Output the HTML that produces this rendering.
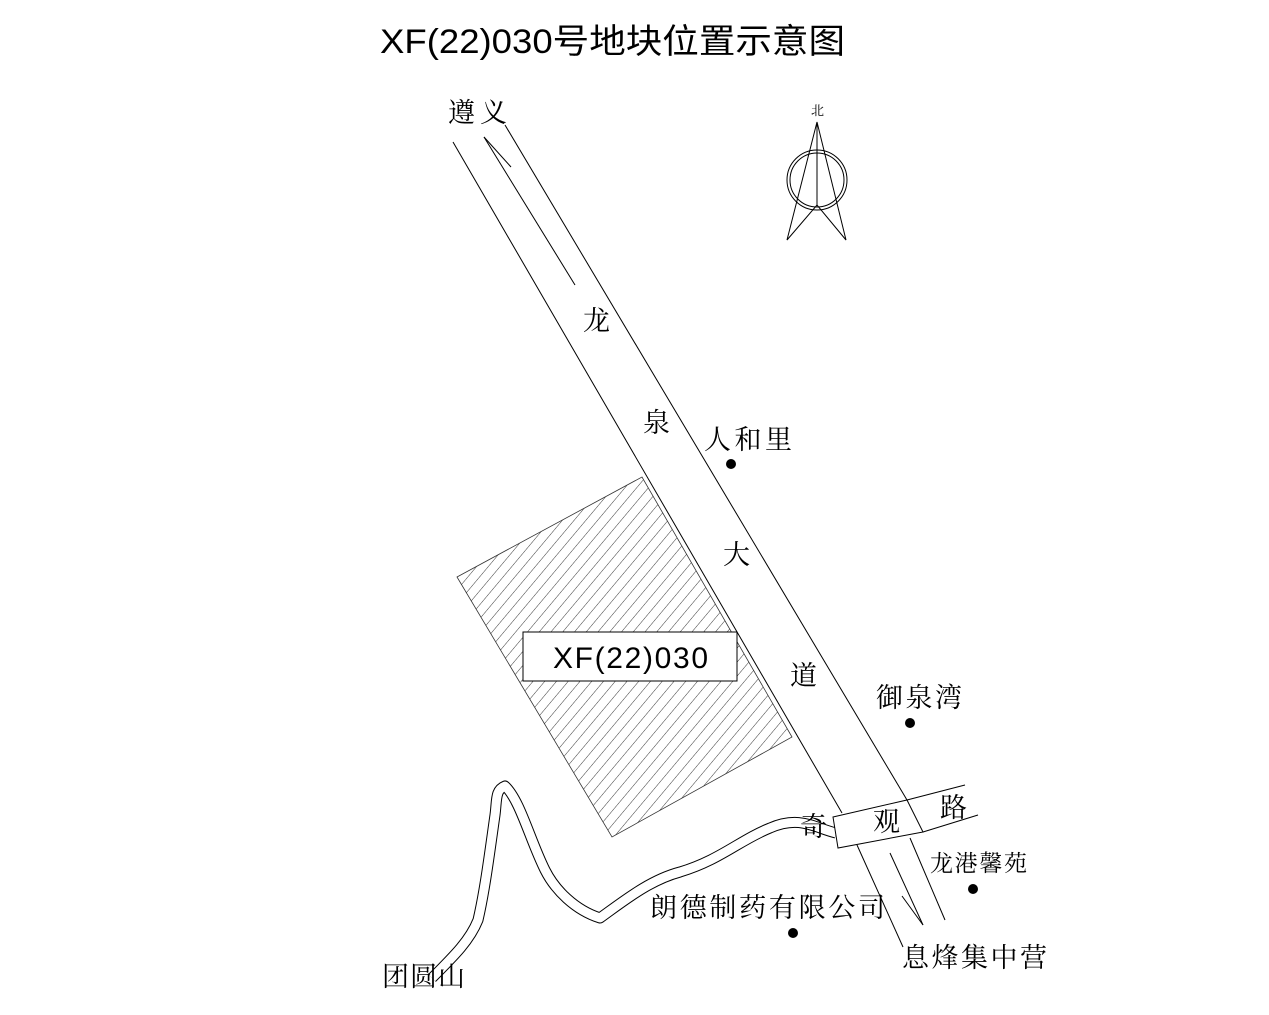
<!DOCTYPE html>
<html><head><meta charset="utf-8"><style>
html,body{margin:0;padding:0;background:#fff;}
svg{display:block;}
.s{font-family:"Liberation Serif","Noto Serif CJK SC",serif;fill:#000;}
.t{font-family:"Liberation Sans","Noto Sans CJK SC",sans-serif;fill:#000;}
</style></head><body>
<svg width="1269" height="1015" viewBox="0 0 1269 1015" xmlns="http://www.w3.org/2000/svg">
<defs>
<pattern id="h" width="9" height="9" patternUnits="userSpaceOnUse" patternTransform="rotate(40)">
<line x1="0" y1="0" x2="0" y2="9" stroke="#222" stroke-width="0.9"/>
</pattern>
</defs>
<text class="t" x="380" y="53" font-size="34" textLength="465" lengthAdjust="spacingAndGlyphs">XF(22)030号地块位置示意图</text>

<!-- parcel -->
<polygon points="457,577 642,477 792,737 612,837" fill="url(#h)" stroke="#333" stroke-width="0.8"/>
<rect x="523" y="632" width="214" height="49" fill="#fff" stroke="#000" stroke-width="1"/>
<text class="t" x="553" y="668" font-size="30" textLength="155" lengthAdjust="spacing">XF(22)030</text>

<!-- winding road -->
<path d="M836,833 C815,828 800,815 770,828 C740,840 720,860 680,872 C650,880 625,900 600,918 C575,910 555,890 545,870 C530,840 520,800 505,786 C495,790 497,800 495,815 C490,850 485,890 478,920 C470,940 455,955 432,978"
 fill="none" stroke="#000" stroke-width="11" stroke-linejoin="round"/>
<path d="M836,833 C815,828 800,815 770,828 C740,840 720,860 680,872 C650,880 625,900 600,918 C575,910 555,890 545,870 C530,840 520,800 505,786 C495,790 497,800 495,815 C490,850 485,890 478,920 C470,940 455,955 432,978"
 fill="none" stroke="#fff" stroke-width="9" stroke-linejoin="round"/>

<!-- main road -->
<g stroke="#000" stroke-width="1" fill="none">
<line x1="453" y1="142" x2="842" y2="813"/>
<line x1="505" y1="125" x2="907" y2="800"/>
<line x1="484" y1="137" x2="575" y2="285"/>
<line x1="484" y1="137" x2="511" y2="167"/>
<line x1="857" y1="845" x2="903" y2="947"/>
<line x1="910" y1="838" x2="945" y2="920"/>
<line x1="890" y1="853" x2="923" y2="925"/>
<line x1="902" y1="896" x2="923" y2="925"/>
<polygon points="833,817 907,800 923,832 838,848" fill="#fff"/>
<line x1="907" y1="800" x2="965" y2="785"/>
<line x1="923" y1="832" x2="978" y2="815"/>
</g>

<!-- compass -->
<g stroke="#000" stroke-width="1" fill="none">
<circle cx="817" cy="180" r="30"/>
<circle cx="817" cy="180" r="27"/>
<polygon points="817,122 787,240 817,205 846,240"/>
<line x1="817" y1="122" x2="817" y2="205"/>
</g>
<text class="s" x="811" y="115" font-size="13">北</text>

<!-- labels -->
<g class="s" font-size="27">
<text x="448" y="122" textLength="59">遵义</text>
<text x="583" y="330">龙</text>
<text x="643" y="432">泉</text>
<text x="723" y="564">大</text>
<text x="790" y="685">道</text>
<text x="704" y="449" textLength="88">人和里</text>
<text x="876" y="707" textLength="86">御泉湾</text>
<text x="800" y="836">奇</text>
<text x="873" y="831">观</text>
<text x="940" y="817">路</text>
<text x="650" y="917" textLength="235">朗德制药有限公司</text>
<text x="902" y="967" textLength="145">息烽集中营</text>
<text x="382" y="986" textLength="83">团圆山</text>
<text x="930" y="871" font-size="23" textLength="97">龙港馨苑</text>
</g>
<g fill="#000">
<circle cx="731" cy="464" r="5"/>
<circle cx="910" cy="723" r="5"/>
<circle cx="973" cy="889" r="5"/>
<circle cx="793" cy="933" r="5"/>
</g>
</svg>
</body></html>
